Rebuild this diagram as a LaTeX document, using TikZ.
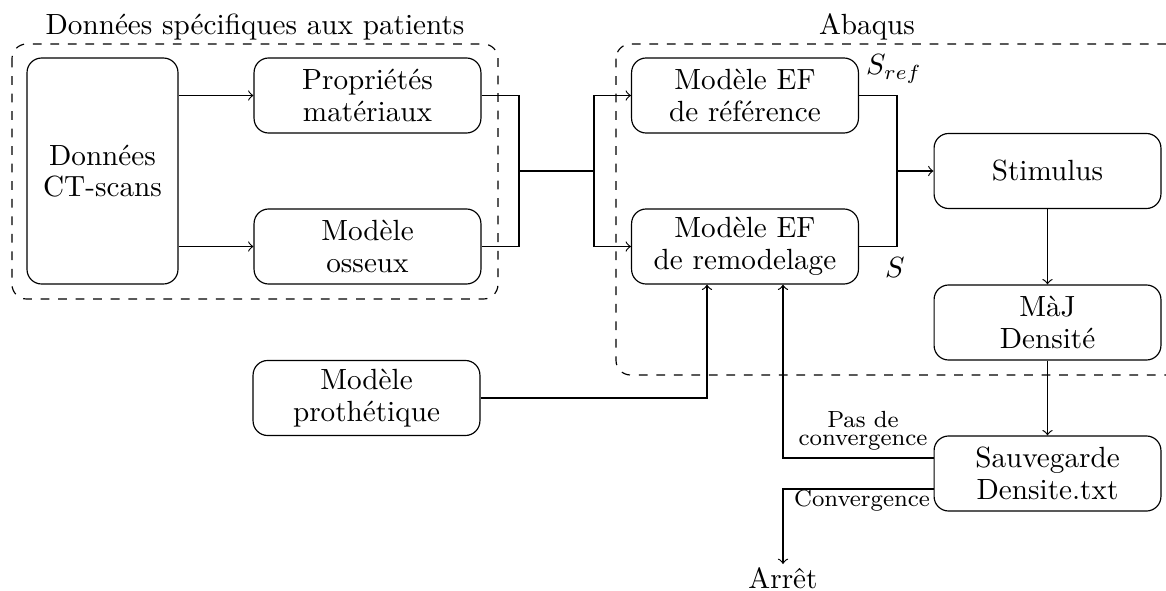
\documentclass[tikz,border=0pt]{standalone}
\usetikzlibrary{calc}
\begin{document}
\begin{tikzpicture}[x=0.3425pt,y=-0.3425pt,
  every node/.style={font=\fontsize{10}{10.8}\selectfont},
  box/.style={draw,rounded corners=5pt,minimum width=77.7pt,minimum height=25.7pt,align=center,inner sep=0pt},
  groupbox/.style={draw,dashed,rounded corners=5pt},
  grouptitle/.style={inner sep=1pt,anchor=south},
  small/.style={font=\fontsize{8}{6}\selectfont,align=center,inner sep=0pt},
  >=to]
\useasboundingbox (0,0) rectangle (1166,590);

% group boxes
\draw[groupbox] (12,44) rectangle (498,299);
\node[grouptitle] (t1) at (255,44) {Données spécifiques aux patients};
\draw[groupbox] (616,44) rectangle (1190,375);
\node[grouptitle] (t2) at (867,44) {Abaqus};

% nodes
\node[box,minimum width=51.7pt,minimum height=77.4pt] (ct) at (102.5,171) {Données\\CT-scans};
\node[box] (prop) at (367.5,95.5) {Propriétés\\matériaux};
\node[box] (oss) at (367.5,246.5) {Modèle\\osseux};
\node[box] (ref) at (745,95.5) {Modèle EF\\de référence};
\node[box] (remod) at (745,246.5) {Modèle EF\\de remodelage};
\node[box] (stim) at (1047.5,171) {Stimulus};
\node[box] (maj) at (1047.5,322.5) {MàJ\\Densité};
\node[box] (sauv) at (1047.5,473.5) {Sauvegarde\\Densite.txt};
\node[box] (proth) at (366.5,398) {Modèle\\prothétique};
\node[inner sep=1pt,anchor=north] (arret) at (783,564) {Arrêt};

\node (sref) at (894,69) {$S_{ref}$};
\node (s) at (895,268) {$S$};

% junctions
\coordinate (j1) at (519,171);
\coordinate (j2) at (594,171);
\coordinate (j3) at (897,171);
\coordinate (c1) at (783,458);
\coordinate (c2) at (783,489);

% connectors
\draw[->] (ct.east |- prop.west) -- (prop.west);
\draw[->] (ct.east |- oss.west) -- (oss.west);
\draw (prop.east) -| (j1) |- (oss.east);
\draw (j1) -- (j2);
\draw[->] (j2) |- (ref.west);
\draw[->] (j2) |- (remod.west);
\draw (ref.east) -| (j3) |- (remod.east);
\draw[->] (j3) -- (stim.west);
\draw[->] (stim) -- (maj);
\draw[->] (maj) -- (sauv);
\draw[->] (sauv.west |- c1) -- (c1) -- (c1 |- remod.south);
\draw[->] (sauv.west |- c2) -- (c2) -- (arret.north);
\draw[->] (proth.east) -| ($(remod.south)+(-38,0)$);

\node[small] (l1) at (863,431) {Pas de\\convergence};
\node[small] (l2) at (862,501) {Convergence};
\end{tikzpicture}
\end{document}
